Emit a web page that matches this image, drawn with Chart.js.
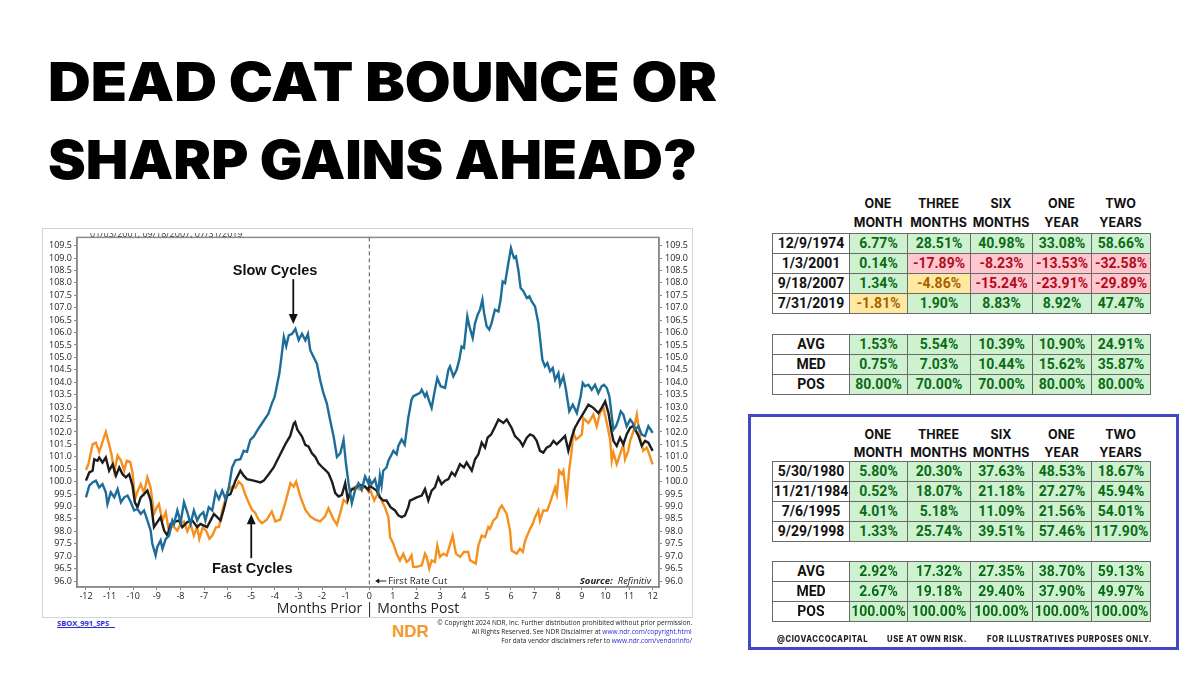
<!DOCTYPE html>
<html><head><meta charset="utf-8">
<script src="https://cdn.jsdelivr.net/npm/chart.js@4.4.1/dist/chart.umd.min.js"></script>
<style>
html,body{margin:0;padding:0;background:#fff;width:1200px;height:675px;overflow:hidden;position:relative;}
.title{position:absolute;left:48px;font-family:'Inter','DejaVu Sans',sans-serif;font-weight:900;font-size:54px;line-height:54px;color:#000;white-space:nowrap;transform-origin:0 0;display:inline-block;}
#chartBox{position:absolute;left:42px;top:228px;width:649px;height:388px;border:1.5px solid #d4d4d4;background:#fff;}
#c{position:absolute;left:0;top:0;}
.small{position:absolute;white-space:nowrap;display:inline-block;font-family:'Open Sans',sans-serif;color:#222;}
table.t{position:absolute;border-collapse:collapse;table-layout:fixed;font-family:'Roboto',sans-serif;font-weight:700;font-size:14px;}
table.t td{border:1px solid #6a6a6a;height:19px;padding:0;text-align:center;line-height:19px;white-space:nowrap;overflow:hidden;}
.hdr{position:absolute;font-family:'Inter',sans-serif;font-weight:700;font-size:12.5px;color:#111;white-space:nowrap;}
.hdr span{position:absolute;top:0;text-align:center;}
#blueBox{position:absolute;left:748px;top:414px;width:425px;height:230px;border:3px solid #4248c8;}
.foot{position:absolute;top:634px;font-family:'Inter',sans-serif;font-weight:800;font-size:8.5px;letter-spacing:0.6px;color:#222;white-space:nowrap;transform-origin:0 0;display:inline-block;}
</style></head>
<body>
<div class="title" id="t1" style="top:55px">DEAD CAT BOUNCE OR</div>
<div class="title" id="t2" style="top:133px">SHARP GAINS AHEAD?</div>

<div id="chartBox"><canvas id="c" width="649" height="388"></canvas></div>
<div style="position:absolute;left:90px;top:233px;width:160px;height:6px;overflow:hidden;"><span class="small" style="top:-6px;left:0;font-size:9px;color:#444;">01/03/2001, 09/18/2007, 07/31/2019</span></div>

<div class="small" style="left:57px;top:618px;font-size:7.5px;font-weight:700;color:#2b2bd0;text-decoration:underline;">SBOX_991_SPS&nbsp;&nbsp;&nbsp;</div>
<div class="small" style="left:392px;top:623px;font-family:'Liberation Sans',Arial,sans-serif;font-weight:700;font-size:17px;line-height:17px;color:#f39a2a;">NDR</div>
<div class="small copy" id="cp1" style="top:617px;font-size:8px;line-height:10px;">© Copyright 2024 NDR, Inc. Further distribution prohibited without prior permission.</div>
<div class="small copy" id="cp2" style="top:626px;font-size:8px;line-height:10px;">All Rights Reserved. See NDR Disclaimer at <span style="color:#2b2bd0">www.ndr.com/copyright.html</span></div>
<div class="small copy" id="cp3" style="top:635px;font-size:8px;line-height:10px;">For data vendor disclaimers refer to <span style="color:#2b2bd0">www.ndr.com/vendorinfo/</span></div>

<div id="blueBox"></div>
<div class="foot" id="f1" style="left:777px">@CIOVACCOCAPITAL</div>
<div class="foot" id="f2" style="left:887px">USE AT OWN RISK.</div>
<div class="foot" id="f3" style="left:987px">FOR ILLUSTRATIVES PURPOSES ONLY.</div>

<script>
// ---------------- DATA ----------------
const horizons = [["ONE","MONTH"],["THREE","MONTHS"],["SIX","MONTHS"],["ONE","YEAR"],["TWO","YEARS"]];

const slowDates = ["12/9/1974","1/3/2001","9/18/2007","7/31/2019"];
const slowReturns = [
  [6.77, 28.51, 40.98, 33.08, 58.66],
  [0.14, -17.89, -8.23, -13.53, -32.58],
  [1.34, -4.86, -15.24, -23.91, -29.89],
  [-1.81, 1.90, 8.83, 8.92, 47.47]
];
const slowStatLabels = ["AVG","MED","POS"];
const slowStats = [
  [1.53, 5.54, 10.39, 10.90, 24.91],
  [0.75, 7.03, 10.44, 15.62, 35.87],
  [80.00, 70.00, 70.00, 80.00, 80.00]
];

const fastDates = ["5/30/1980","11/21/1984","7/6/1995","9/29/1998"];
const fastReturns = [
  [5.80, 20.30, 37.63, 48.53, 18.67],
  [0.52, 18.07, 21.18, 27.27, 45.94],
  [4.01, 5.18, 11.09, 21.56, 54.01],
  [1.33, 25.74, 39.51, 57.46, 117.90]
];
const fastStatLabels = ["AVG","MED","POS"];
const fastStats = [
  [2.92, 17.32, 27.35, 38.70, 59.13],
  [2.67, 19.18, 29.40, 37.90, 49.97],
  [100.00, 100.00, 100.00, 100.00, 100.00]
];

// chart series: [months from first rate cut, index level]
const xTickMonths = [-12,-11,-10,-9,-8,-7,-6,-5,-4,-3,-2,-1,0,1,2,3,4,5,6,7,8,9,10,11,12];

const slowCycles = [[-12.0,99.37],[-11.86,99.84],[-11.72,99.97],[-11.58,100.04],[-11.44,99.77],[-11.3,99.9],[-11.16,99.57],[-11.09,99.1],[-10.95,99.57],[-10.8,99.37],[-10.66,99.7],[-10.52,99.17],[-10.38,99.37],[-10.24,99.44],[-10.1,99.17],[-9.96,98.84],[-9.82,98.9],[-9.68,98.7],[-9.54,98.84],[-9.4,98.44],[-9.26,98.03],[-9.19,97.5],[-9.05,97.03],[-8.98,97.37],[-8.84,97.63],[-8.76,97.3],[-8.62,97.7],[-8.48,97.83],[-8.34,98.44],[-8.27,98.3],[-8.13,98.84],[-7.99,98.37],[-7.85,99.17],[-7.71,98.77],[-7.57,98.3],[-7.43,98.84],[-7.29,98.44],[-7.18,98.64],[-7.03,98.77],[-6.94,98.44],[-6.8,98.97],[-6.65,98.84],[-6.51,99.57],[-6.37,99.3],[-6.23,99.64],[-6.09,99.3],[-5.95,99.77],[-5.81,100.57],[-5.67,100.86],[-5.46,100.9],[-5.32,101.24],[-5.18,101.2],[-5.04,101.68],[-4.9,101.81],[-4.69,102.14],[-4.55,102.34],[-4.41,102.54],[-4.27,102.74],[-4.13,103.14],[-4.01,103.41],[-3.91,103.88],[-3.81,104.35],[-3.72,105.02],[-3.62,105.82],[-3.52,105.45],[-3.41,105.89],[-3.27,105.95],[-3.13,106.15],[-2.99,105.7],[-2.85,105.95],[-2.71,105.69],[-2.6,105.95],[-2.5,105.29],[-2.36,105.02],[-2.22,104.75],[-2.08,104.08],[-1.94,103.55],[-1.8,103.15],[-1.66,102.48],[-1.51,101.81],[-1.37,101.0],[-1.23,101.14],[-1.09,101.68],[-0.99,100.74],[-0.88,99.94],[-0.74,99.14],[-0.6,99.67],[-0.46,99.94],[-0.32,99.67],[-0.18,100.21],[-0.04,99.94],[0.0,100.1],[0.1,99.9],[0.24,100.1],[0.38,99.57],[0.45,100.24],[0.52,99.84],[0.59,100.44],[0.73,100.57],[0.81,100.84],[0.95,101.1],[1.02,101.24],[1.16,101.1],[1.23,101.44],[1.37,101.7],[1.5,101.49],[1.65,102.56],[1.79,103.3],[1.86,103.43],[2.0,103.5],[2.15,103.57],[2.22,103.7],[2.36,103.43],[2.43,103.57],[2.54,103.23],[2.64,102.97],[2.78,103.7],[2.88,104.17],[3.02,103.84],[3.21,103.77],[3.35,104.5],[3.42,104.64],[3.56,104.24],[3.7,104.5],[3.81,104.9],[3.91,105.44],[4.01,105.38],[4.15,106.65],[4.24,106.25],[4.38,105.78],[4.48,106.38],[4.59,106.72],[4.69,106.92],[4.79,107.32],[4.86,106.79],[4.97,106.25],[5.08,106.12],[5.18,106.38],[5.32,106.92],[5.47,106.85],[5.56,107.32],[5.65,108.06],[5.75,107.99],[5.89,108.8],[6.0,109.4],[6.06,109.2],[6.13,109.0],[6.21,109.06],[6.31,108.53],[6.41,107.79],[6.53,107.66],[6.67,107.39],[6.78,107.46],[6.88,107.25],[7.02,107.05],[7.16,106.38],[7.23,105.78],[7.33,104.91],[7.44,104.64],[7.54,104.77],[7.66,104.44],[7.77,104.57],[7.87,104.1],[8.01,104.37],[8.08,103.9],[8.22,104.24],[8.33,103.7],[8.47,102.83],[8.62,103.1],[8.79,102.76],[8.95,103.43],[9.04,103.97],[9.14,103.84],[9.28,103.9],[9.42,103.7],[9.56,103.9],[9.7,103.57],[9.84,103.84],[9.94,103.9],[10.06,103.77],[10.17,103.43],[10.27,102.63],[10.34,102.09],[10.45,102.23],[10.55,102.5],[10.65,102.83],[10.76,102.7],[10.9,102.23],[11.05,102.5],[11.16,102.36],[11.26,102.09],[11.4,102.23],[11.54,101.89],[11.68,101.83],[11.82,102.23],[11.92,102.09],[12.0,101.96]];

const allCycles = [[-12.0,100.04],[-11.86,100.37],[-11.72,100.44],[-11.65,100.9],[-11.51,100.84],[-11.44,100.97],[-11.3,100.77],[-11.16,100.97],[-11.02,100.44],[-10.87,100.7],[-10.73,100.24],[-10.59,100.57],[-10.45,100.3],[-10.31,100.17],[-10.17,100.3],[-10.03,99.84],[-9.93,99.17],[-9.82,98.97],[-9.68,99.37],[-9.54,99.5],[-9.4,99.64],[-9.26,99.24],[-9.12,98.17],[-8.98,98.37],[-8.84,98.57],[-8.69,98.03],[-8.55,97.83],[-8.41,98.3],[-8.27,98.37],[-8.06,98.44],[-7.92,98.17],[-7.71,98.37],[-7.5,98.44],[-7.29,98.17],[-7.15,98.3],[-6.87,98.17],[-6.72,98.44],[-6.58,98.7],[-6.3,98.44],[-6.16,98.9],[-6.02,99.44],[-5.88,99.5],[-5.67,100.04],[-5.46,100.44],[-5.32,100.24],[-5.18,100.1],[-4.9,100.04],[-4.61,99.97],[-4.47,100.04],[-4.26,100.3],[-4.05,100.57],[-3.91,100.84],[-3.77,101.1],[-3.56,101.5],[-3.35,101.84],[-3.2,102.34],[-3.14,102.4],[-3.05,102.1],[-2.99,102.01],[-2.85,101.81],[-2.71,101.48],[-2.57,101.41],[-2.43,101.14],[-2.29,101.0],[-2.15,100.74],[-2.01,100.6],[-1.87,100.47],[-1.73,100.34],[-1.58,100.0],[-1.44,99.54],[-1.3,99.4],[-1.16,99.47],[-1.02,99.94],[-0.91,99.27],[-0.77,99.67],[-0.6,99.74],[-0.39,99.87],[-0.18,99.8],[-0.04,99.67],[0.0,99.84],[0.31,99.64],[0.45,99.37],[0.59,99.24],[0.73,99.24],[0.9,98.97],[1.09,98.84],[1.23,98.64],[1.37,98.57],[1.51,98.64],[1.65,98.97],[1.72,99.24],[1.86,99.3],[2.01,99.37],[2.22,99.44],[2.36,99.7],[2.5,99.24],[2.64,99.64],[2.78,99.77],[2.92,100.17],[3.06,99.9],[3.21,100.04],[3.35,100.1],[3.49,100.37],[3.63,100.24],[3.84,100.7],[4.01,100.57],[4.12,100.77],[4.34,100.44],[4.48,100.9],[4.62,101.1],[4.76,101.57],[4.9,101.37],[5.01,101.77],[5.16,101.9],[5.32,102.2],[5.47,102.5],[5.68,102.36],[5.82,102.5],[6.03,102.16],[6.17,101.83],[6.38,101.64],[6.5,101.44],[6.67,101.77],[6.81,101.9],[6.95,101.84],[7.09,101.64],[7.23,101.24],[7.37,101.17],[7.51,101.37],[7.66,101.44],[7.8,101.64],[7.94,101.5],[8.15,101.7],[8.29,101.84],[8.43,101.24],[8.57,101.77],[8.71,102.17],[8.86,102.43],[9.07,102.76],[9.28,103.1],[9.49,102.97],[9.7,102.76],[9.84,102.97],[9.99,103.23],[10.13,102.76],[10.27,101.96],[10.34,101.64],[10.48,101.44],[10.62,101.77],[10.76,101.5],[10.9,101.9],[11.05,102.17],[11.19,102.24],[11.4,101.84],[11.54,101.44],[11.68,101.64],[11.82,101.57],[12.0,101.24]];

const fastCycles = [[-12.0,100.47],[-11.9,100.7],[-11.72,101.5],[-11.58,101.57],[-11.44,101.2],[-11.3,101.6],[-11.16,102.0],[-11.02,101.5],[-10.92,101.1],[-10.8,100.4],[-10.66,101.05],[-10.52,100.85],[-10.38,100.45],[-10.27,100.85],[-10.13,100.8],[-10.03,100.37],[-9.92,99.3],[-9.82,99.6],[-9.68,99.9],[-9.54,99.55],[-9.4,100.17],[-9.26,99.75],[-9.12,98.7],[-9.0,98.97],[-8.91,99.1],[-8.76,98.43],[-8.62,98.77],[-8.48,97.97],[-8.34,98.24],[-8.13,98.03],[-7.99,98.3],[-7.85,98.4],[-7.71,98.0],[-7.57,98.3],[-7.43,97.83],[-7.29,98.17],[-7.2,97.7],[-7.05,98.17],[-6.9,98.0],[-6.77,97.7],[-6.65,97.83],[-6.49,98.17],[-6.37,98.17],[-6.23,98.84],[-6.09,99.3],[-5.95,99.67],[-5.81,99.8],[-5.67,99.75],[-5.53,100.0],[-5.39,99.87],[-5.25,99.47],[-5.1,99.14],[-4.97,98.87],[-4.83,98.74],[-4.69,98.47],[-4.55,98.33],[-4.34,98.47],[-4.13,98.8],[-3.98,98.4],[-3.77,98.47],[-3.56,99.14],[-3.34,99.94],[-3.2,99.8],[-3.1,100.0],[-2.92,99.4],[-2.71,98.87],[-2.5,98.6],[-2.29,98.47],[-2.08,98.4],[-1.87,98.6],[-1.73,98.93],[-1.51,98.47],[-1.37,98.27],[-1.23,98.74],[-1.09,99.27],[-0.95,99.14],[-0.8,99.67],[-0.6,99.8],[-0.39,99.67],[-0.18,99.8],[-0.04,99.6],[0.0,99.77],[0.21,99.24],[0.38,99.57],[0.52,99.24],[0.66,98.97],[0.81,98.57],[0.88,97.77],[1.02,97.5],[1.16,97.1],[1.3,96.83],[1.44,97.1],[1.58,96.77],[1.67,96.83],[1.79,97.03],[1.86,96.57],[2.01,96.57],[2.22,96.63],[2.36,97.1],[2.43,96.97],[2.54,96.5],[2.64,96.83],[2.78,96.77],[2.88,97.43],[2.99,96.97],[3.14,97.1],[3.28,97.03],[3.53,97.83],[3.67,97.1],[3.84,96.97],[4.01,97.17],[4.19,97.17],[4.27,96.83],[4.51,96.7],[4.62,97.43],[4.76,97.83],[4.9,97.77],[5.04,98.17],[5.11,98.1],[5.25,98.43],[5.4,98.57],[5.51,98.9],[5.61,99.04],[5.82,98.7],[5.96,98.03],[6.03,97.23],[6.24,97.1],[6.38,97.3],[6.5,97.17],[6.6,97.63],[6.81,98.1],[6.92,98.3],[7.02,98.57],[7.16,98.84],[7.23,98.43],[7.37,98.84],[7.54,98.84],[7.66,99.17],[7.87,99.77],[7.94,99.5],[8.04,100.44],[8.15,100.3],[8.22,100.44],[8.36,99.3],[8.47,100.5],[8.57,101.24],[8.64,101.97],[8.76,101.7],[8.86,101.77],[9.0,101.9],[9.07,102.56],[9.28,102.36],[9.49,102.7],[9.63,102.23],[9.77,102.76],[9.92,102.97],[10.06,102.36],[10.2,101.7],[10.27,100.84],[10.34,101.17],[10.48,100.7],[10.62,101.1],[10.76,101.5],[10.83,100.9],[10.97,101.24],[11.05,101.64],[11.19,102.04],[11.33,102.7],[11.47,101.77],[11.6,101.24],[11.75,101.37],[11.86,101.1],[12.0,100.7]];

// ---------------- TABLES ----------------
const colW = [77,58,63,62,59,59];
function cellStyle(v){
  if (v >= 0) return {bg:'#cef2d0', fg:'#0b6a17'};
  if (v > -5) return {bg:'#ffe9a0', fg:'#a65f00'};
  return {bg:'#ffc7ce', fg:'#b10a1f'};
}
function makeTable(left, top, labels, rows){
  const t = document.createElement('table');
  t.className = 't';
  t.style.left = left + 'px'; t.style.top = top + 'px';
  const cg = document.createElement('colgroup');
  colW.forEach(w => { const c = document.createElement('col'); c.style.width = w + 'px'; cg.appendChild(c); });
  t.appendChild(cg);
  labels.forEach((lab, i) => {
    const tr = document.createElement('tr');
    const th = document.createElement('td'); th.textContent = lab; th.style.color = '#111'; th.style.background = '#fff';
    tr.appendChild(th);
    rows[i].forEach(v => {
      const td = document.createElement('td');
      const s = cellStyle(v);
      td.textContent = v.toFixed(2) + '%';
      td.style.background = s.bg; td.style.color = s.fg;
      tr.appendChild(td);
    });
    t.appendChild(tr);
  });
  t.style.width = colW.reduce((a,b)=>a+b,0) + 'px';
  document.body.appendChild(t);
}
function makeHeader(left, top, lh){
  const d = document.createElement('div');
  d.className = 'hdr';
  d.style.left = left + 'px'; d.style.top = top + 'px';
  let x = colW[0];
  horizons.forEach((h, i) => {
    const s = document.createElement('span');
    s.style.left = x + 'px'; s.style.width = colW[i+1] + 'px';
    s.style.lineHeight = lh + 'px';
    s.innerHTML = h[0] + '<br>' + h[1];
    d.appendChild(s);
    x += colW[i+1];
  });
  document.body.appendChild(d);
}
makeHeader(772, 194, 19);
makeTable(772, 233, slowDates, slowReturns);
makeTable(772, 334, slowStatLabels, slowStats);
makeHeader(772, 426, 17.5);
makeTable(772, 461, fastDates, fastReturns);
makeTable(772, 561, fastStatLabels, fastStats);

// ---------------- CHART ----------------
const FONT = "'Open Sans', sans-serif";
const annot = {
  id: 'annot',
  afterDatasetsDraw(chart){
    const {ctx, chartArea: a, scales:{x, y}} = chart;
    ctx.save();
    ctx.strokeStyle = '#8a8a8a'; ctx.lineWidth = 1.5;
    ctx.strokeRect(a.left, a.top, a.right - a.left, a.bottom - a.top);
    const x0 = x.getPixelForValue(0);
    ctx.setLineDash([4,3]); ctx.strokeStyle = '#555'; ctx.lineWidth = 1;
    ctx.beginPath(); ctx.moveTo(x0, a.top); ctx.lineTo(x0, a.bottom); ctx.stroke();
    ctx.setLineDash([]);
    ctx.fillStyle = '#111';
    ctx.font = "bold 14.5px 'Liberation Sans', Arial, sans-serif";
    ctx.textAlign = 'center'; ctx.textBaseline = 'middle';
    ctx.fillText('Slow Cycles', x.getPixelForValue(-3.99), y.getPixelForValue(108.47));
    ctx.fillText('Fast Cycles', x.getPixelForValue(-4.96), y.getPixelForValue(96.47));
    function arrow(xv, y1, y2){
      const px = x.getPixelForValue(xv), p1 = y.getPixelForValue(y1), p2 = y.getPixelForValue(y2);
      const dir = p2 > p1 ? 1 : -1;
      ctx.strokeStyle = '#111'; ctx.lineWidth = 1.8;
      ctx.beginPath(); ctx.moveTo(px, p1); ctx.lineTo(px, p2 - dir*7); ctx.stroke();
      ctx.beginPath(); ctx.moveTo(px, p2); ctx.lineTo(px - 4.5, p2 - dir*10); ctx.lineTo(px + 4.5, p2 - dir*10); ctx.closePath(); ctx.fill();
    }
    arrow(-3.22, 108.15, 106.34);
    arrow(-5.0, 96.92, 98.69);
    const yb = a.bottom - 6;
    ctx.strokeStyle = '#222'; ctx.lineWidth = 1;
    const xa = x.getPixelForValue(0.25), xb = x.getPixelForValue(0.72);
    ctx.beginPath(); ctx.moveTo(xb, yb); ctx.lineTo(xa + 3, yb); ctx.stroke();
    ctx.beginPath(); ctx.moveTo(xa, yb); ctx.lineTo(xa + 4, yb - 2.5); ctx.lineTo(xa + 4, yb + 2.5); ctx.closePath(); ctx.fill();
    ctx.font = "9.5px " + FONT; ctx.textAlign = 'left'; ctx.fillStyle = '#222';
    ctx.fillText('First Rate Cut', x.getPixelForValue(0.8), yb);
    ctx.textAlign = 'right';
    ctx.font = "italic 9.5px " + FONT;
    const rx = a.right - 8;
    ctx.fillText('Refinitiv', rx, yb);
    const w = ctx.measureText('Refinitiv').width;
    ctx.font = "italic bold 9.5px " + FONT;
    ctx.fillText('Source:', rx - w - 5, yb);
    ctx.restore();
  }
};

const tickFont = {family: FONT, size: 9};
new Chart(document.getElementById('c'), {
  type: 'line',
  data: {
    datasets: [
      {label:'Slow Cycles', data: slowCycles.map(p => ({x:p[0], y:p[1]})), borderColor:'#1c6d9a', borderWidth:2.4, pointRadius:0, tension:0},
      {label:'All Cycles', data: allCycles.map(p => ({x:p[0], y:p[1]})), borderColor:'#1d1d1d', borderWidth:2.4, pointRadius:0, tension:0},
      {label:'Fast Cycles', data: fastCycles.map(p => ({x:p[0], y:p[1]})), borderColor:'#f5901e', borderWidth:2.4, pointRadius:0, tension:0}
    ]
  },
  options: {
    responsive:false, animation:false, devicePixelRatio:1,
    layout:{padding:{top:7, left:0, right:0, bottom:0}},
    plugins:{legend:{display:false}, tooltip:{enabled:false}},
    scales:{
      x:{type:'linear', position:'bottom', min:-12.38, max:12.27,
        afterFit(s){ s.height = 30; },
        afterBuildTicks(s){ s.ticks = xTickMonths.map(v => ({value:v})); },
        ticks:{font:tickFont, color:'#222', padding:1, autoSkip:false, maxRotation:0, callback:v => String(v)},
        grid:{drawOnChartArea:false, tickLength:3, color:'#888'},
        border:{color:'#8a8a8a', width:1.5},
        title:{display:true, text:'Months Prior | Months Post', font:{family:FONT, size:14}, color:'#222', padding:{top:0, bottom:0}}
      },
      y:{position:'left', min:95.76, max:109.83,
        afterFit(s){ s.width = 34; },
        ticks:{stepSize:0.5, includeBounds:false, font:tickFont, color:'#222', padding:2, autoSkip:false, callback:v => v.toFixed(1)},
        grid:{drawOnChartArea:false, tickLength:3, color:'#888'},
        border:{color:'#8a8a8a', width:1.5}
      },
      y2:{position:'right', min:95.76, max:109.83,
        afterFit(s){ s.width = 33; },
        ticks:{stepSize:0.5, includeBounds:false, font:tickFont, color:'#222', padding:3, autoSkip:false, callback:v => v.toFixed(1)},
        grid:{drawOnChartArea:false, tickLength:3, color:'#888'},
        border:{color:'#8a8a8a', width:1.5}
      }
    }
  },
  plugins:[annot]
});

// ---------------- TEXT FITTING ----------------
function fitW(id, w, origin){
  const el = document.getElementById(id);
  el.style.display = 'inline-block';
  const r = el.getBoundingClientRect().width;
  el.style.transformOrigin = origin || '0 0';
  el.style.transform = 'scaleX(' + (w / r) + ')';
}
function placeRight(id, right, w){
  const el = document.getElementById(id);
  const r = el.getBoundingClientRect().width;
  el.style.left = (right - r) + 'px';
  el.style.transformOrigin = '100% 0';
  el.style.transform = 'scaleX(' + (w / r) + ')';
}
fitW('t1', 669); fitW('t2', 649);
fitW('f1', 91); fitW('f2', 80); fitW('f3', 165);
placeRight('cp1', 692, 255); placeRight('cp2', 692, 220); placeRight('cp3', 692, 191);
</script>
</body></html>
